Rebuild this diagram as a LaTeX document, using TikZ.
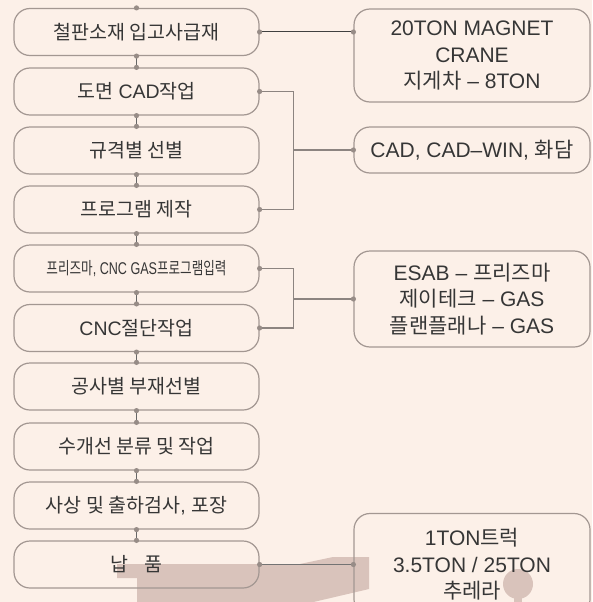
\documentclass[tikz,border=0pt]{standalone}
\usepackage{fontspec}
\setmainfont{Liberation Sans}
\newfontfamily\krfont{Noto Sans CJK KR}
\newcommand\kr[1]{{\krfont #1}}
\definecolor{bgc}{HTML}{FCF0E8}
\definecolor{wmc}{HTML}{D9C3BB}
\definecolor{bordc}{HTML}{A39792}
\definecolor{linec}{HTML}{8C8480}
\definecolor{dotc}{HTML}{978C87}
\definecolor{txtc}{HTML}{363636}
\tikzset{
  lbox/.style={draw=bordc, line width=1.2pt, rounded corners=16pt, minimum width=245pt, minimum height=47pt, inner sep=0pt, text=txtc, font=\fontsize{19.5}{22}\selectfont},
  rbox/.style={draw=bordc, line width=1.2pt, rounded corners=16pt, minimum width=236pt, inner sep=0pt, text=txtc, align=center, font=\fontsize{21}{26.5}\selectfont},
  conn/.style={draw=linec, line width=1.4pt},
  darkconn/.style={draw=black!75, line width=1pt},
  dotm/.style={fill=dotc}
}
\begin{document}
\begin{tikzpicture}[x=1pt,y=-1pt]
\fill[bgc] (0,0) rectangle (592,602);
\useasboundingbox (0,0) rectangle (592,602);
% watermark
\fill[wmc] (117,564) -- (300,564) -- (333,557) -- (369,557) -- (369,589) -- (305,604) -- (137,604) -- (137,578) -- (117,578) -- cycle;
\fill[wmc] (518,584) circle (15pt);
\fill[wmc] (514,584) rectangle (522,604);
% left boxes
\node[lbox] (b1) at (136.5,32) {\kr{철판소재 입고사급재}};
\node[lbox] (b2) at (136.5,91.5) {\kr{도면} CAD\kr{작업}};
\node[lbox] (b3) at (136.5,150.5) {\kr{규격별 선별}};
\node[lbox] (b4) at (136.5,209.5) {\kr{프로그램 제작}};
\node[lbox] (b5) at (136.5,268.5) {\scalebox{0.74}[1]{\fontsize{17}{20}\selectfont \kr{프리즈마}, CNC GAS\kr{프로그램입력}}};
\node[lbox] (b6) at (136.5,328) {CNC\kr{절단작업}};
\node[lbox] (b7) at (136.5,386.5) {\kr{공사별 부재선별}};
\node[lbox] (b8) at (136.5,446.5) {\kr{수개선 분류 및 작업}};
\node[lbox] (b9) at (136.5,505.5) {\kr{사상 및 출하검사}, \kr{포장}};
\node[lbox] (b10) at (136.5,564.5) {\kr{납\hspace{0.8em}품}};
% right boxes
\node[rbox, minimum height=93pt] (r1) at (472,55.5) {20TON MAGNET\\CRANE\\\kr{지게차} – 8TON};
\node[rbox, minimum height=46pt] (r2) at (472,150) {CAD, CAD–WIN, \kr{화담}};
\node[rbox, minimum height=96pt] (r3) at (472,299) {ESAB – \kr{프리즈마}\\\kr{제이테크} – GAS\\\kr{플랜플래나} – GAS};
\node[rbox, minimum height=102pt] (r4) at (472,564.5) {1TON\kr{트럭}\\3.5TON / 25TON\\\kr{추레라}};
% vertical connectors
\foreach \a/\b in {b1/b2,b2/b3,b3/b4,b4/b5,b5/b6,b6/b7,b7/b8,b8/b9,b9/b10}{
  \draw[darkconn, draw=black!60] (\a.south) -- (\b.north);
  \fill[dotm] (\a.south) circle (2.6pt);
  \fill[dotm] (\b.north) circle (2.6pt);
}
\fill[dotm] (b1.north) circle (2.6pt);
% side connectors
\coordinate (c1) at (b1.east -| r1.west);
\draw[darkconn] (b1.east) -- (c1);
\draw[conn] (b2.east) -- ++(34,0) coordinate (j1) |- (b4.east);
\draw[conn] (r2.west) -- (r2.west -| j1);
\draw[conn] (b5.east) -- ++(34,0) coordinate (j2) |- (b6.east);
\draw[conn] (r3.west) -- (r3.west -| j2);
\draw[conn, draw=black!55] (b10.east) -- (r4.west);
\foreach \p in {b1.east,c1,b2.east,b4.east,r2.west,b5.east,b6.east,r3.west,b10.east,r4.west}{
  \fill[dotm] (\p) circle (2.6pt);
}
\end{tikzpicture}
\end{document}
